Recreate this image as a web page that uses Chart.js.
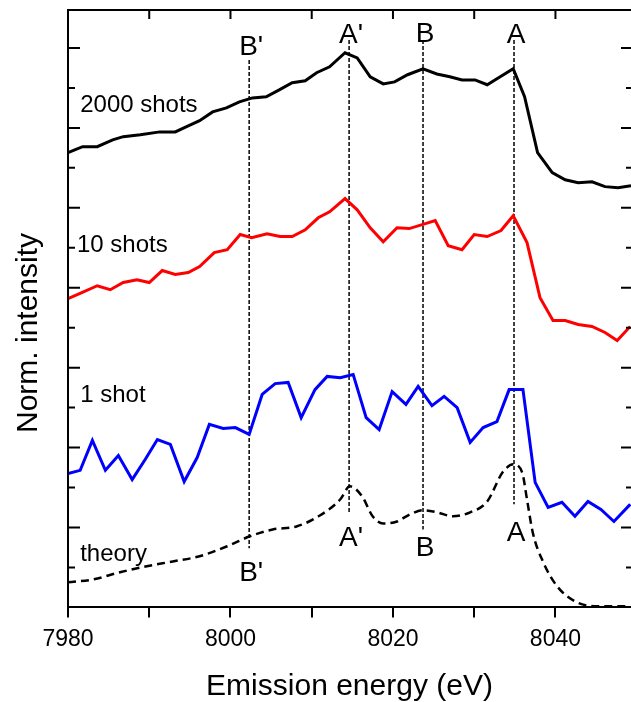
<!DOCTYPE html>
<html>
<head>
<meta charset="utf-8">
<script src="https://cdn.jsdelivr.net/npm/chart.js@4.4.1/dist/chart.umd.min.js"></script>
<style>
  html, body { margin: 0; padding: 0; background: #fff; }
  #wrap { width: 631px; height: 702px; }
</style>
</head>
<body>
<div id="wrap"><canvas id="xesChart" width="631" height="702"></canvas></div>
<script>
// energies (eV) and normalized intensities (offset, arb. units)
const shots2000E = [7980, 7981.8, 7983.6, 7985.5, 7986.8, 7988.9, 7991.3, 7993.2, 7994.6, 7996.2, 7997.8, 7999.5, 8001.1, 8002.7, 8004.4, 8006.0, 8007.6, 8009.2, 8010.6, 8012.2, 8014.1, 8015.6, 8017.2, 8018.8, 8020.2, 8021.8, 8023.7, 8025.4, 8027.0, 8028.5, 8030.1, 8031.6, 8033.2, 8034.8, 8036.2, 8037.8, 8039.6, 8041.2, 8042.8, 8044.5, 8046.1, 8047.7, 8049.3];
const shots2000I = [11.38, 11.53, 11.53, 11.7, 11.78, 11.83, 11.9, 11.9, 12.03, 12.18, 12.4, 12.5, 12.65, 12.75, 12.78, 12.95, 13.13, 13.18, 13.38, 13.53, 13.88, 13.75, 13.28, 13.1, 13.15, 13.33, 13.48, 13.35, 13.28, 13.2, 13.2, 13.08, 13.28, 13.48, 12.78, 11.38, 10.88, 10.7, 10.63, 10.65, 10.53, 10.5, 10.55];

const shots10E = [7980, 7981.7, 7983.6, 7985.2, 7986.8, 7988.5, 7990.0, 7991.6, 7993.2, 7994.8, 7996.2, 7998.0, 7999.6, 8001.2, 8002.6, 8004.5, 8006.1, 8007.6, 8009.2, 8010.8, 8012.2, 8014.1, 8015.6, 8017.2, 8018.8, 8020.5, 8022.0, 8023.6, 8025.2, 8026.8, 8028.5, 8030.0, 8031.6, 8033.3, 8034.8, 8036.5, 8038.1, 8039.7, 8041.2, 8042.8, 8044.5, 8046.1, 8047.6, 8049.2];
const shots10I = [7.73, 7.88, 8.05, 7.95, 8.13, 8.2, 8.13, 8.43, 8.33, 8.38, 8.53, 8.88, 8.95, 9.33, 9.25, 9.35, 9.28, 9.28, 9.45, 9.75, 9.9, 10.23, 9.95, 9.5, 9.15, 9.5, 9.48, 9.58, 9.68, 9.05, 8.95, 9.33, 9.28, 9.43, 9.8, 9.13, 7.75, 7.18, 7.18, 7.08, 7.03, 6.88, 6.68, 7.03];

const shot1E = [7980, 7981.5, 7983.0, 7984.6, 7986.2, 7987.9, 7989.5, 7991.0, 7992.6, 7994.3, 7995.9, 7997.4, 7999.1, 8000.6, 8002.3, 8003.9, 8005.5, 8007.1, 8008.7, 8010.4, 8011.9, 8013.5, 8015.1, 8016.7, 8018.3, 8019.9, 8021.6, 8023.1, 8024.8, 8026.3, 8027.9, 8029.5, 8031.1, 8032.8, 8034.3, 8036.0, 8037.5, 8039.1, 8040.8, 8042.4, 8044.0, 8045.6, 8047.2, 8049.2];
const shot1I = [3.35, 3.43, 4.18, 3.43, 3.8, 3.2, 3.7, 4.2, 4.08, 3.15, 3.75, 4.58, 4.48, 4.5, 4.33, 5.33, 5.6, 5.63, 4.75, 5.45, 5.78, 5.75, 5.83, 4.75, 4.45, 5.4, 5.08, 5.53, 5.05, 5.28, 5.0, 4.13, 4.5, 4.65, 5.45, 5.45, 3.13, 2.5, 2.63, 2.28, 2.65, 2.45, 2.15, 2.58];

const theoryE = [7980, 7983.1, 7986.4, 7989.7, 7992.9, 7996.2, 7999.6, 8002.4, 8005.2, 8008.2, 8011.0, 8013.5, 8014.7, 8016.2, 8017.5, 8018.8, 8020.5, 8022.1, 8023.7, 8025.4, 8027.4, 8029.5, 8031.6, 8033.5, 8034.8, 8035.9, 8036.5, 8037.2, 8038.5, 8040.2, 8042.6, 8045.1, 8049.2];
const theoryI = [0.63, 0.7, 0.88, 1.03, 1.15, 1.28, 1.53, 1.78, 1.95, 2.03, 2.3, 2.7, 3.03, 2.78, 2.28, 2.1, 2.15, 2.33, 2.43, 2.38, 2.28, 2.38, 2.65, 3.38, 3.58, 3.38, 2.7, 1.88, 1.13, 0.53, 0.13, 0.03, 0.03];

// feature markers
const markerNames = ["B'", "A'", "B", "A"];
const markerE = [8002.3, 8014.6, 8023.7, 8034.9];
const markerTop = [13.7, 14.2, 14.2, 14.2];
const markerBottom = [1.48, 2.38, 1.95, 2.58];
const markerLabelTop = [13.83, 14.13, 14.15, 14.13];
const markerLabelBottom = [0.65, 1.53, 1.28, 1.65];

// curve labels
const curveNames = ['2000 shots', '10 shots', '1 shot', 'theory'];
const curveLabelE = [7981.5, 7981.1, 7981.5, 7981.5];
const curveLabelI = [12.4, 8.9, 5.15, 1.15];

const xTicks = [7980, 7990, 8000, 8010, 8020, 8030, 8040];

const font = 'Liberation Sans, Arial, Helvetica, sans-serif';

function pts(xs, ys) {
  return xs.map((x, i) => ({ x: x, y: ys[i] }));
}

const datasets = [
  { data: pts(shots2000E, shots2000I), borderColor: '#000000', borderWidth: 3 },
  { data: pts(shots10E, shots10I), borderColor: '#ff0000', borderWidth: 3 },
  { data: pts(shot1E, shot1I), borderColor: '#0000ff', borderWidth: 3 },
  { data: pts(theoryE, theoryI), borderColor: '#000000', borderWidth: 2.5, borderDash: [8, 5], cubicInterpolationMode: 'monotone' }
];
markerE.forEach((e, i) => {
  datasets.push({
    data: [{ x: e, y: markerTop[i] }, { x: e, y: markerBottom[i] }],
    borderColor: '#000000', borderWidth: 1.5, borderDash: [4, 2]
  });
});

const framePlugin = {
  id: 'frame',
  afterDraw(chart) {
    const ctx = chart.ctx;
    const a = chart.chartArea;
    const xs = chart.scales.x;
    const ys = chart.scales.y;
    ctx.save();
    ctx.strokeStyle = '#000';
    ctx.lineWidth = 2;
    ctx.beginPath();
    ctx.moveTo(a.left, a.bottom);
    ctx.lineTo(a.left, a.top);
    ctx.lineTo(a.right, a.top);
    ctx.stroke();

    // inward ticks on top
    ctx.beginPath();
    xTicks.forEach(v => {
      const px = xs.getPixelForValue(v);
      ctx.moveTo(px, a.top);
      ctx.lineTo(px, a.top + 9);
    });
    // inward ticks left and right
    for (let k = 1; k <= 14; k++) {
      const py = ys.getPixelForValue(k);
      const len = k % 2 === 0 ? 12 : 7;
      ctx.moveTo(a.left, py);
      ctx.lineTo(a.left + len, py);
      ctx.moveTo(a.right, py);
      ctx.lineTo(a.right - len + 2, py);
    }
    ctx.stroke();

    ctx.fillStyle = '#000';
    // marker letters
    ctx.font = '28px ' + font;
    ctx.textAlign = 'center';
    ctx.textBaseline = 'alphabetic';
    markerNames.forEach((n, i) => {
      const px = xs.getPixelForValue(markerE[i]);
      ctx.fillText(n, px + 2, ys.getPixelForValue(markerLabelTop[i]));
      ctx.fillText(n, px + 2, ys.getPixelForValue(markerLabelBottom[i]));
    });

    // curve labels
    ctx.font = '24px ' + font;
    ctx.textAlign = 'left';
    curveNames.forEach((n, i) => {
      ctx.fillText(n, xs.getPixelForValue(curveLabelE[i]), ys.getPixelForValue(curveLabelI[i]));
    });

    // y axis title
    ctx.font = '30px ' + font;
    ctx.textAlign = 'center';
    ctx.textBaseline = 'middle';
    ctx.translate(29, 333);
    ctx.rotate(-Math.PI / 2);
    ctx.fillText('Norm. intensity', 0, 0);
    ctx.restore();
  }
};

new Chart(document.getElementById('xesChart').getContext('2d'), {
  type: 'line',
  data: { datasets: datasets },
  options: {
    responsive: false,
    animation: false,
    events: [],
    layout: { padding: { left: 68, top: 10, right: 0, bottom: 0 } },
    elements: {
      point: { radius: 0 },
      line: { tension: 0, fill: false, borderCapStyle: 'butt', borderJoinStyle: 'miter' }
    },
    plugins: {
      legend: { display: false },
      tooltip: { enabled: false }
    },
    scales: {
      x: {
        type: 'linear',
        min: 7980,
        max: 8049.3,
        border: { display: true, color: '#000', width: 2 },
        grid: { drawOnChartArea: false, drawTicks: true, tickLength: 10, color: '#000', lineWidth: 2 },
        afterBuildTicks: scale => { scale.ticks = xTicks.map(v => ({ value: v })); },
        ticks: {
          includeBounds: false,
          color: '#000',
          padding: 8,
          maxRotation: 0,
          autoSkip: false,
          font: { family: font, size: 23 },
          callback: v => (v % 20 === 0 ? String(v) : '')
        },
        title: {
          display: true,
          text: 'Emission energy (eV)',
          color: '#000',
          font: { family: font, size: 30, lineHeight: 1.0 },
          padding: { top: 11, bottom: 0 }
        }
      },
      y: {
        type: 'linear',
        display: false,
        min: 0,
        max: 14.95
      }
    }
  },
  plugins: [framePlugin]
});
</script>
</body>
</html>
